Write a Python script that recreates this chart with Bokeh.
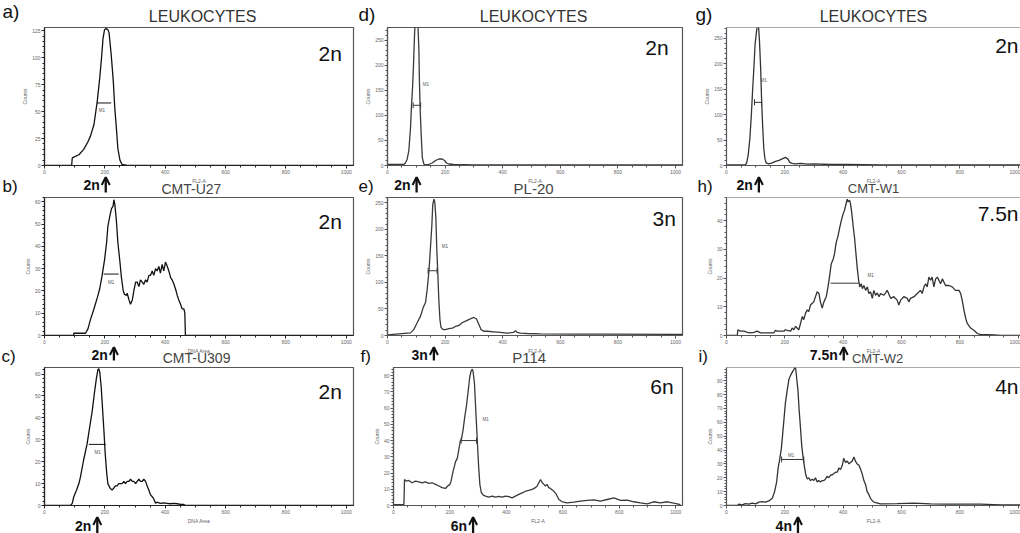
from bokeh.plotting import figure
from bokeh.layouts import row, column
from bokeh.models import Label, Arrow, OpenHead, Range1d, FixedTicker, Span
from bokeh.embed import file_html
from bokeh.resources import INLINE

FONT = "Liberation Sans"

# ---------------- data (channel FL2-A / DNA Area, counts) ----------------
a_x = [0, 90, 92, 114, 130, 144, 152, 164, 175, 183, 189, 194, 199, 204, 210, 214, 221, 228, 233, 239, 243, 250, 257, 274, 1024]
a_y = [0, 0, 7, 10, 15, 22, 27, 38, 60, 81, 100, 118, 126, 127, 126, 123, 103, 78, 53, 32, 16, 5, 1, 0, 0]

b_x = [0, 97, 97, 136, 144, 152, 164, 175, 183, 191, 199, 206, 210, 217, 222, 227, 230, 233, 238, 243,
       250, 255, 261, 265, 272, 274, 280, 285, 291, 296, 302, 307, 313, 318, 324, 329, 335, 340, 346, 351,
       357, 362, 368, 373, 379, 384, 390, 395, 401, 407, 412, 418, 423, 429, 434, 440, 445, 451, 456, 462,
       465, 467, 1024]
b_y = [0, 0, 1, 1, 3, 7, 12, 17, 21, 27, 34, 42, 49, 54, 57, 58, 61, 59, 52, 42,
       33, 26, 20, 18.5, 18, 19, 16, 14, 16, 20, 24, 24, 22, 25, 24, 23, 25, 24, 27, 27,
       29, 27, 30, 29, 31, 28, 32, 29, 33, 31, 29, 26, 25, 23, 21, 18, 16, 14, 12, 12,
       10, 0, 0]

c_x = [0, 86, 92, 97, 106, 114, 119, 130, 141, 150, 158, 166, 172, 177, 180, 183, 188, 192, 197, 201,
       206, 210, 217, 224, 230, 235, 241, 246, 252, 257, 263, 268, 274, 280, 285, 291, 296, 302, 307, 313,
       318, 324, 329, 335, 340, 346, 351, 357, 362, 368, 373, 384, 395, 406, 417, 428, 440, 451, 462, 467,
       1024]
c_y = [0, 0, 1, 4, 7, 10, 13, 21, 28, 36, 43, 52, 58, 62, 62.5, 61, 54, 45, 34, 24,
       15, 10, 8, 7, 8, 9, 9, 10, 10, 10, 11, 10, 11, 11, 12, 11, 11, 10, 11, 12,
       11, 11, 12, 11, 9, 7, 5, 4, 3, 1, 1.5, 1, 1.2, 1, 0.8, 1, 0.8, 0.5, 0.5, 0,
       0]

d_x = [0, 57, 62, 68, 74, 80, 83, 87, 90, 94, 97, 101, 105, 106, 109, 111, 114, 118, 121, 126,
       132, 143, 155, 167, 178, 190, 198, 205, 213, 230, 300, 1024]
d_y = [2, 2, 5, 12, 29, 76, 116, 156, 196, 263, 295, 310, 300, 275, 230, 163, 102, 49, 15, 3,
       1, 2, 5, 10, 13, 13, 10, 5, 3, 2, 1.3, 1.3]

e_x = [0, 80, 91, 103, 115, 124, 132, 138, 144, 149, 154, 157, 161, 164, 168, 171, 175, 178, 182, 186,
       193, 201, 213, 225, 236, 248, 259, 271, 282, 290, 300, 309, 317, 325, 334, 346, 369, 392, 415, 438,
       444, 450, 462, 485, 531, 647, 763, 994, 1024]
e_y = [1.3, 5, 11, 24, 37, 53, 62, 88, 122, 164, 208, 246, 257, 252, 221, 164, 113, 69, 30, 15,
       11, 11, 13, 14, 17, 19, 24, 27, 30, 32, 34, 31, 21, 11, 8, 8, 7, 6, 4.4, 6,
       9, 6, 4.4, 3.8, 3.2, 2.5, 2.5, 2, 2]

f_x = [0, 37, 39, 46, 54, 66, 78, 90, 102, 113, 125, 137, 149, 161, 172, 184, 192, 200, 204, 211,
       220, 226, 231, 237, 241, 247, 252, 259, 265, 270, 275, 279, 282, 287, 290, 294, 299, 302, 306, 311,
       318, 326, 338, 350, 361, 373, 385, 397, 409, 420, 432, 444, 456, 468, 479, 491, 503, 509, 515, 521,
       527, 533, 538, 544, 550, 556, 568, 577, 586, 598, 615, 639, 662, 686, 710, 733, 757, 781, 804, 828,
       851, 875, 899, 922, 946, 970, 993, 1017]
f_y = [0.6, 0.6, 16, 15, 15.4, 14, 15, 14.6, 14, 14.6, 13.6, 14, 13, 12, 11, 10.5, 12, 13, 15, 21,
       27, 29, 34, 40, 41, 47, 54, 62, 71, 79, 83, 84, 82.5, 75, 64, 50, 33, 23, 13, 8,
       6.4, 5.8, 5.1, 5.8, 5.1, 5.6, 5.1, 5.8, 5.4, 4.7, 5.8, 6.8, 7.8, 8.8, 9.3, 9.9, 11, 12, 14, 16,
       14, 13, 12, 13, 11, 10.5, 8.8, 6.8, 3.7, 2.3, 1.6, 2.1, 2.7, 3.1, 3.5, 2.7, 3.7, 4.7, 3.1, 3.3,
       2.3, 1.6, 1.0, 2.3, 1.6, 2.3, 1.4, 0.6]

g_x = [0, 65, 69, 74, 80, 85, 89, 94, 98, 103, 106, 110, 113, 117, 120, 124, 128, 132, 136, 145,
       157, 168, 180, 191, 202, 210, 217, 225, 237, 254, 277, 300, 357, 414, 528, 1024]
g_y = [1.3, 1.3, 5, 19, 52, 97, 142, 193, 238, 264, 275, 272, 245, 193, 135, 77, 32, 13, 5, 3,
       5, 8, 10, 13, 16, 13, 6, 4, 3, 4, 2.6, 3, 2, 2, 1.3, 1.3]

h_x = [0, 37, 39, 48, 60, 71, 82, 94, 105, 117, 128, 140, 151, 162, 168, 174, 185, 197, 202, 208,
       220, 225, 231, 237, 242, 248, 254, 260, 265, 271, 277, 282, 288, 294, 299, 305, 311, 317, 322, 328,
       334, 342, 348, 353, 359, 366, 370, 376, 382, 388, 393, 399, 405, 409, 414, 417, 422, 425, 429, 435,
       439, 444, 448, 453, 457, 462, 466, 471, 477, 483, 488, 494, 500, 505, 511, 517, 523, 528, 540, 551,
       563, 574, 585, 591, 597, 608, 620, 625, 631, 643, 654, 665, 671, 677, 683, 688, 694, 700, 705, 711,
       717, 723, 734, 740, 751, 763, 774, 785, 797, 803, 808, 814, 820, 825, 837, 848, 860, 871, 894, 917,
       940, 1024]
h_y = [0, 0, 2, 1.5, 1.5, 1.1, 0.9, 1.1, 1.5, 0.9, 0.9, 0.9, 0.9, 0.9, 1.8, 1.5, 1.5, 1.5, 2, 1.8,
       1.5, 2.6, 2, 3.2, 2.6, 2, 4.3, 6.6, 5.5, 7.8, 8.9, 8.3, 10.6, 11.2, 11.7, 13.5, 15.2, 14.6, 11.7, 9.5,
       11.7, 13.5, 16.9, 20.3, 24.9, 26.6, 28.3, 32.3, 34.5, 37.4, 39.7, 42, 43.7, 45.4, 47.4, 46.5, 47.1, 45.9, 43.1, 37.4,
       34, 28.3, 23.7, 19.2, 16.9, 18, 16.3, 17.4, 15.7, 16.9, 14.6, 15.2, 12.9, 15.7, 14, 14.8, 13.5, 14.6, 14, 15.7,
       12.9, 13.5, 12.3, 10.6, 12.3, 13.5, 12.9, 11.7, 12.9, 13.5, 14.6, 15.7, 14.6, 16.9, 18, 16.9, 20.3, 19.2, 20.3, 16.9,
       19.7, 20.3, 18, 19.7, 17.4, 17.4, 16.9, 15.7, 15.7, 14.6, 12.3, 8.9, 6, 4.3, 2.6, 1.8, 0.7, 0.3, 0.3, 0.2,
       0, 0]

i_x = [0, 37, 42, 54, 65, 77, 88, 100, 111, 122, 134, 145, 157, 165, 172, 177, 183, 188, 192, 197,
       202, 208, 214, 220, 225, 231, 234, 237, 240, 245, 249, 254, 258, 263, 268, 272, 277, 282, 288, 294,
       300, 305, 311, 316, 322, 328, 334, 339, 345, 351, 357, 362, 368, 374, 380, 385, 391, 397, 402, 408,
       414, 420, 425, 431, 437, 442, 448, 454, 460, 465, 471, 477, 482, 488, 494, 505, 528, 585, 643, 700,
       757, 814, 871, 940, 1024]
i_y = [0, 0, 1, 0.5, 1.4, 1, 1.7, 1.2, 2.4, 2.8, 2.4, 3.3, 5.2, 10, 17, 27, 34, 41, 50, 62,
       74, 83, 91, 94, 96, 98, 99.5, 99, 93, 83, 69, 55, 43, 34, 27, 22, 19, 20, 18, 19,
       18, 20, 17, 18, 17, 18, 18, 19, 21, 20, 22, 22, 23, 24, 24, 27, 26, 29, 34, 31,
       32, 30, 31, 32, 35, 32, 30, 29, 26, 23, 18, 15, 10, 8, 5, 2.4, 1.2, 1.4, 1.7, 1.2,
       1, 1, 1, 0.5, 0.5]

letters = ["a)", "b)", "c)", "d)", "e)", "f)", "g)", "h)", "i)"]
titles = ["LEUKOCYTES", "CMT-U27", "CMT-U309", "LEUKOCYTES", "PL-20", "P114", "LEUKOCYTES", "CMT-W1", "CMT-W2"]
ploidy = ["2n", "2n", "2n", "2n", "3n", "6n", "2n", "7.5n", "4n"]
x_labels = ["FL2-A", "DNA Area", "DNA Area", "FL2-A", "FL2-A", "FL2-A", "FL2-A", "FL2-A", "FL2-A"]
y_max = [128, 62, 63, 275, 260, 85, 271, 48, 99.5]
y_step = [25, 10, 10, 50, 50, 10, 50, 10, 10]
peak_channel = [203, 230, 175, 101, 161, 282, 111, 402, 245]   # arrow (modal channel)
m1_start = [174, 196, 147, 89, 141, 240, 96, 357, 189]
m1_end = [221, 246, 203, 115, 172, 294, 120, 454, 265]
m1_level = [58, 27.6, 27.9, 120, 122, 40, 124, 18.2, 33.2]
m1_label_x = [190, 221, 176, 133, 199, 326, 127, 494, 222]
m1_label_y = [51, 24, 24, 162, 167, 53, 167, 21, 36]
x_ticks = [0, 200, 400, 600, 800, 1000]

xs = [a_x, b_x, c_x, d_x, e_x, f_x, g_x, h_x, i_x]
ys = [a_y, b_y, c_y, d_y, e_y, f_y, g_y, h_y, i_y]

# ---------------- layout / style (pixels) ----------------
COLS = [dict(width=356, left=44, right=3, xend=1024, line="#111111", axis="#222222"),
        dict(width=329, left=31, right=3, xend=1024, line="#3a3a3a", axis="#555555"),
        dict(width=335, left=41, right=0, xend=1008, line="#333333", axis="#555555")]
left_override = {5: 37}
FRAME_H = [138, 138, 138]
P_TOP, P_BOTTOM = 1, 11
STRIP_H = [26, 20, 20, 17]

letter_px = [2, 2, 1, 2, 2, 4, 10, 12, 13]        # left edge inside the column canvas
letter_y0 = [8, 5, 5]                              # row-0 baselines (px above strip bottom)
title_x = [524, 487, 504, 507, 507, 492, 504, 504, 518]
title_y = [4, 3, 3.3]                              # baselines (px above strip bottom)
title_size = [16, 14, 14, 16, 15, 15, 16, 13, 13]
title_color = ["#333333", "#444444", "#444444", "#333333", "#444444", "#444444", "#333333", "#444444", "#444444"]
ploidy_x = [908, 908, 908, 895, 920, 910, None, None, None]
ploidy_dy = [-33, -31, -31, -27, -28, -26, -25, -23, -26]   # baseline below frame top
caps = [False, False, False, True, True, True, True, False, True]
arrow_label_y = [7, 7, 3]      # baselines inside the strip below each row
arrow_tail_y = [4, 6, 0]
xlabel_y = [14, 14, 11]


def mid(fs):
    # distance from the alphabetic baseline up to the centre of the em box
    return 0.347 * fs


def geom(k):
    ci = k // 3
    col = COLS[ci]
    left = left_override.get(k, col["left"])
    fw = col["width"] - left - col["right"]
    u = col["xend"] / fw
    return col, left, u


def make_panel(k):
    ci, ri = k // 3, k % 3
    col, left, u = geom(k)
    ymax = y_max[k]
    fh = FRAME_H[ri]
    p = figure(width=col["width"], height=fh + P_TOP + P_BOTTOM,
               x_range=Range1d(0, col["xend"]), y_range=Range1d(0, ymax),
               output_backend="svg", toolbar_location=None, title=None,
               min_border_left=left, min_border_right=col["right"],
               min_border_top=P_TOP, min_border_bottom=P_BOTTOM,
               background_fill_color="white", border_fill_color="white")
    p.frame_align = False
    p.xgrid.visible = False
    p.ygrid.visible = False
    if ci == 2:
        p.outline_line_color = None
        p.add_layout(Span(location=ymax, dimension="width", line_color="#555555", line_width=1.2))
    else:
        p.outline_line_color = "#555555"
        p.outline_line_width = 1.2

    nmaj = int(ymax // y_step[k]) + 1
    y_ticks = [y_step[k] * i for i in range(nmaj)]
    y_minor = [y_step[k] / 5 * i for i in range(int(ymax / (y_step[k] / 5)) + 1)]
    x_minor = [50 * i for i in range(21)]
    p.xaxis.ticker = FixedTicker(ticks=x_ticks, minor_ticks=x_minor)
    p.yaxis.ticker = FixedTicker(ticks=y_ticks, minor_ticks=y_minor)
    p.yaxis.axis_label = "Counts"
    for ax in (p.xaxis[0], p.yaxis[0]):
        ax.axis_line_color = col["axis"]
        ax.axis_line_width = 1.2
        ax.major_tick_line_color = col["axis"]
        ax.minor_tick_line_color = col["axis"]
        ax.major_tick_in = 0
        ax.major_tick_out = 3
        ax.minor_tick_in = 0
        ax.minor_tick_out = 2
        ax.major_label_text_font = FONT
        ax.major_label_text_font_size = "5px"
        ax.major_label_text_color = "#666666"
        ax.major_label_standoff = 1
        ax.axis_label_text_font = FONT
        ax.axis_label_text_font_size = "5px"
        ax.axis_label_text_font_style = "normal"
        ax.axis_label_text_color = "#666666"
        ax.axis_label_standoff = 1

    p.line(xs[k], ys[k], line_color=col["line"], line_width=1.3)

    my = m1_level[k]
    p.segment(x0=[m1_start[k]], y0=[my], x1=[m1_end[k]], y1=[my], line_color=col["line"], line_width=1)
    if caps[k]:
        c = ymax * 3.0 / fh
        p.segment(x0=[m1_start[k], m1_end[k]], y0=[my - c, my - c],
                  x1=[m1_start[k], m1_end[k]], y1=[my + c, my + c],
                  line_color=col["line"], line_width=1)
    p.add_layout(Label(x=m1_label_x[k], y=m1_label_y[k], text="M1", text_font=FONT,
                       text_font_size="4.5px", text_color="#555555", text_align="center",
                       text_baseline="middle"))

    fs = 21
    dy = ploidy_dy[k] + mid(fs)
    if ploidy_x[k] is None:
        p.add_layout(Label(x=col["xend"], y=ymax, x_offset=-2, y_offset=dy, text=ploidy[k],
                           text_font=FONT, text_font_size=f"{fs}px", text_color="#111111",
                           text_align="right", text_baseline="middle"))
    else:
        p.add_layout(Label(x=ploidy_x[k], y=ymax, y_offset=dy, text=ploidy[k],
                           text_font=FONT, text_font_size=f"{fs}px", text_color="#111111",
                           text_align="left", text_baseline="middle"))
    return p


def make_strip(ci, si):
    # strip si sits above panel row si (si < 3) and below panel row si-1 (si > 0)
    ref_k = ci * 3 + (0 if si == 0 else si - 1)
    col, left, u = geom(ref_k)
    H = STRIP_H[si]
    s = figure(width=col["width"], height=H,
               x_range=Range1d(-left * u, col["xend"] + col["right"] * u), y_range=Range1d(0, H),
               output_backend="svg", toolbar_location=None, title=None,
               x_axis_type=None, y_axis_type=None,
               min_border_left=0, min_border_right=0, min_border_top=0, min_border_bottom=0,
               background_fill_color="white", border_fill_color="white")
    s.frame_align = False
    s.outline_line_color = None

    if si > 0:   # arrow, its label and x-axis label of the panel above
        k = ref_k
        r = si - 1
        pk = peak_channel[k]
        s.add_layout(Arrow(end=OpenHead(size=8, line_width=2, line_color="#111111"),
                           x_start=pk, y_start=arrow_tail_y[r], x_end=pk, y_end=H - 0.5,
                           line_width=2.3, line_color="#111111"))
        s.add_layout(Label(x=pk, y=arrow_label_y[r] + mid(14), x_offset=-6, text=ploidy[k],
                           text_font=FONT, text_font_size="14px", text_font_style="bold",
                           text_color="#111111", text_align="right", text_baseline="middle"))
        s.add_layout(Label(x=col["xend"] / 2, y=xlabel_y[r] + mid(5), text=x_labels[k],
                           text_font=FONT, text_font_size="5px", text_color="#666666",
                           text_align="center", text_baseline="middle"))
    if si < 3:   # letter and title of the panel below
        k = ci * 3 + si
        lx = (letter_px[k] - left) * u
        if si == 0:
            s.add_layout(Label(x=lx, y=letter_y0[ci] + mid(19), text=letters[k], text_font=FONT,
                               text_font_size="19px", text_color="#111111",
                               text_align="left", text_baseline="middle"))
        else:
            s.add_layout(Label(x=lx, y=H / 2, text=letters[k], text_font=FONT,
                               text_font_size="17px", text_color="#111111",
                               text_align="left", text_baseline="middle"))
        fs = title_size[k]
        s.add_layout(Label(x=title_x[k], y=title_y[si] + mid(fs), text=titles[k],
                           text_font=FONT, text_font_size=f"{fs}px", text_color=title_color[k],
                           text_align="center", text_baseline="middle"))
    return s


panels = [make_panel(k) for k in range(9)]
columns = []
for ci in range(3):
    items = []
    for si in range(4):
        items.append(make_strip(ci, si))
        if si < 3:
            items.append(panels[ci * 3 + si])
    columns.append(column(*items, spacing=0))
layout = row(*columns, spacing=0)

open("out.html", "w").write(file_html(layout, INLINE))
